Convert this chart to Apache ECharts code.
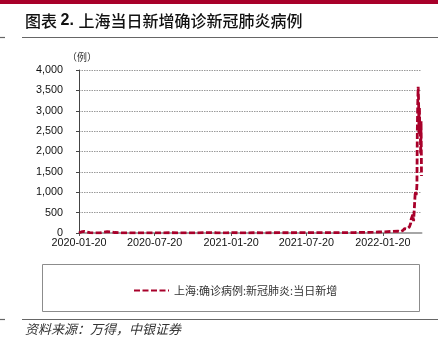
<!DOCTYPE html>
<html>
<head>
<meta charset="utf-8">
<script src="https://cdn.jsdelivr.net/npm/echarts@6/dist/echarts.min.js"></script>
<style>
  html, body { margin: 0; padding: 0; background: #fff; }
  #chart { width: 438px; height: 341px; }
</style>
</head>
<body>
<div id="chart"></div>
<script>
// 上海:确诊病例:新冠肺炎:当日新增 (例)
const seriesName = '上海:确诊病例:新冠肺炎:当日新增';

// 2020-01 ~ 2022-02: low-level period (sampled dates)
const earlyDates = [
  '2020-01-20', '2020-01-28', '2020-02-02', '2020-02-08', '2020-02-15', '2020-02-25',
  '2020-03-10', '2020-03-20', '2020-03-28', '2020-04-05', '2020-04-15', '2020-05-01',
  '2020-06-01', '2020-07-01', '2020-08-01', '2020-09-01', '2020-10-01', '2020-11-01',
  '2020-11-24', '2020-12-15', '2021-01-10', '2021-01-22', '2021-02-15', '2021-03-15',
  '2021-04-15', '2021-05-15', '2021-06-15', '2021-07-15', '2021-08-15', '2021-09-15',
  '2021-10-15', '2021-11-15', '2021-12-10', '2021-12-28', '2022-01-10', '2022-01-25',
  '2022-02-10', '2022-02-25'
];
const earlyValues = [
  6, 33, 38, 24, 8, 2,
  4, 22, 35, 28, 12, 4,
  2, 3, 5, 6, 4, 5,
  9, 6, 4, 10, 4, 6,
  5, 7, 6, 8, 10, 7,
  9, 12, 15, 20, 25, 30,
  38, 45
];

// 2022-03-01 ~ 2022-04-23: daily values
const springDates = [
  '2022-03-01', '2022-03-03', '2022-03-05', '2022-03-07', '2022-03-09', '2022-03-11',
  '2022-03-13', '2022-03-15', '2022-03-17', '2022-03-19', '2022-03-21', '2022-03-23',
  '2022-03-25', '2022-03-27', '2022-03-28', '2022-03-29', '2022-03-30', '2022-03-31',
  '2022-04-01', '2022-04-02', '2022-04-03', '2022-04-04', '2022-04-05', '2022-04-06',
  '2022-04-07', '2022-04-08', '2022-04-09', '2022-04-10', '2022-04-11', '2022-04-12',
  '2022-04-13', '2022-04-14', '2022-04-15', '2022-04-16', '2022-04-17', '2022-04-18',
  '2022-04-19', '2022-04-20', '2022-04-21', '2022-04-22', '2022-04-23'
];
const springValues = [
  40, 30, 45, 35, 60, 80,
  110, 90, 120, 100, 130, 110,
  150, 180, 240, 330, 360, 370,
  300, 450, 430, 290, 330, 340,
  830, 1020, 1010, 930, 1000, 1190,
  2570, 3200, 3590, 3240, 2420, 3080,
  2490, 2630, 1930, 2740, 1400
];

const xTickLabels = ['2020-01-20', '2020-07-20', '2021-01-20', '2021-07-20', '2022-01-20'];
const yMax = 4000;
const yStep = 500;

const toTime = s => {
  const [y, m, d] = s.split('-').map(Number);
  return Date.UTC(y, m - 1, d);
};
const pad = n => (n < 10 ? '0' : '') + n;
const fmtDate = t => {
  const d = new Date(t);
  return d.getUTCFullYear() + '-' + pad(d.getUTCMonth() + 1) + '-' + pad(d.getUTCDate());
};

const points = earlyDates.map((d, i) => [toTime(d), earlyValues[i]])
  .concat(springDates.map((d, i) => [toTime(d), springValues[i]]));
const tickTimes = xTickLabels.map(toTime);

const red = '#a8002a';
const chart = echarts.init(document.getElementById('chart'), null, { renderer: 'canvas' });

chart.setOption({
  animation: false,
  backgroundColor: '#fff',
  textStyle: { fontFamily: 'Liberation Sans, Arial, sans-serif' },
  grid: { left: 79, right: 16.5, top: 70, bottom: 108, containLabel: false },
  xAxis: {
    type: 'value',
    min: toTime('2020-01-20'),
    max: toTime('2022-04-23'),
    axisLine: { lineStyle: { color: '#a6a6a6', width: 2 } },
    axisTick: { show: true, length: 3, customValues: tickTimes, lineStyle: { color: '#555', width: 1 } },
    axisLabel: {
      customValues: tickTimes,
      formatter: v => fmtDate(v),
      color: '#111', fontSize: 10.8, margin: 5,
      fontFamily: 'Liberation Sans, Arial, sans-serif',
      showMinLabel: true, showMaxLabel: true, hideOverlap: false
    },
    splitLine: { show: false }
  },
  yAxis: {
    type: 'value',
    min: 0, max: yMax, interval: yStep,
    axisLine: { show: true, lineStyle: { color: '#444', width: 1 } },
    axisTick: { show: true, length: 3, lineStyle: { color: '#444' } },
    axisLabel: {
      color: '#111', fontSize: 10.8, margin: 16,
      fontFamily: 'Liberation Sans, Arial, sans-serif',
      formatter: v => v.toLocaleString('en-US')
    },
    splitLine: { show: true, lineStyle: { color: '#9a9a9a', type: [1.5, 1], width: 1 } }
  },
  legend: {
    left: 128, top: 280,
    itemWidth: 35, itemHeight: 12, itemGap: 4,
    itemStyle: { opacity: 0 },
    textStyle: { fontSize: 11, color: '#333', fontFamily: 'Noto Sans CJK SC, sans-serif' },
    data: [seriesName]
  },
  series: [{
    name: seriesName,
    type: 'line',
    data: points,
    symbol: 'none',
    showSymbol: false,
    lineStyle: { color: red, width: 2.8, type: [6, 2.5] },
    itemStyle: { color: red }
  }],
  graphic: [
    { type: 'rect', shape: { x: 0, y: 0, width: 438, height: 4 }, style: { fill: red } },
    { type: 'text', left: 25, top: 13,
      style: {
        text: '{c|图表 }{n|2. }{c|上海当日新增确诊新冠肺炎病例}',
        rich: {
          c: { fontSize: 16, fontFamily: 'Noto Sans CJK SC, sans-serif', fontWeight: 500, fill: '#111' },
          n: { fontSize: 16, fontFamily: 'Liberation Sans, Arial, sans-serif', fontWeight: 'bold', fill: '#111' }
        }
      } },
    { type: 'line', shape: { x1: 22, y1: 37.5, x2: 438, y2: 37.5 }, style: { stroke: '#666', lineWidth: 1.2 } },
    { type: 'line', shape: { x1: 0, y1: 37.5, x2: 5, y2: 37.5 }, style: { stroke: '#666', lineWidth: 1.2 } },
    { type: 'text', left: 67, top: 52,
      style: { text: '（例）', fontSize: 10, fontFamily: 'Noto Sans CJK SC, sans-serif', fill: '#333' } },
    { type: 'rect', shape: { x: 42.5, y: 264.5, width: 377, height: 47 },
      style: { fill: 'none', stroke: '#8c8c8c', lineWidth: 1 } },
    { type: 'line', shape: { x1: 22, y1: 319.5, x2: 438, y2: 319.5 }, style: { stroke: '#666', lineWidth: 1.2 } },
    { type: 'line', shape: { x1: 0, y1: 319.5, x2: 5, y2: 319.5 }, style: { stroke: '#666', lineWidth: 1.2 } },
    { type: 'text', left: 25, top: 323,
      style: { text: '资料来源：万得，中银证券', fontSize: 13, fontStyle: 'italic',
               fontFamily: 'Noto Sans CJK SC, sans-serif', fill: '#333' } }
  ]
});
</script>
</body>
</html>
